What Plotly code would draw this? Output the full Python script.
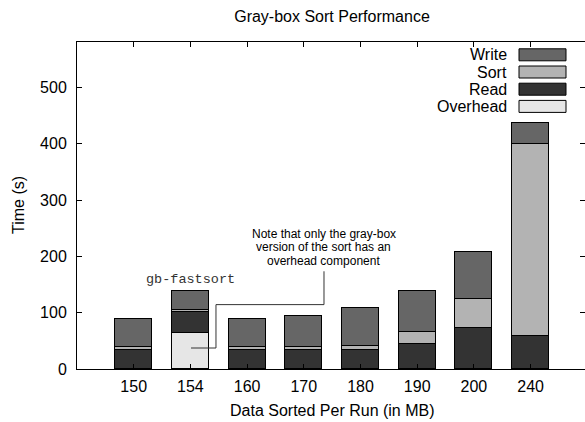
import plotly.graph_objects as go

# ---- data ----
categories = ["150", "154", "160", "170", "180", "190", "200", "240"]
overhead = [0, 64, 0, 0, 0, 0, 0, 0]
read = [34, 37, 34, 34, 34.5, 45, 73, 58]
sort_t = [5, 3, 5, 5.5, 6.5, 20, 52, 342]
write = [50, 34, 50, 54.5, 67, 73, 83, 37]

series_names = ["Overhead", "Read", "Sort", "Write"]
series_values = [overhead, read, sort_t, write]
series_colors = ["#e6e6e6", "#333333", "#b3b3b3", "#666666"]

y_ticks = [0, 100, 200, 300, 400, 500]

FONT = "Liberation Sans, Arial, Helvetica, sans-serif"
W, H = 585, 422
L, R, T, B = 77, 0, 42, 53
PW, PH = W - L - R, H - T - B


def px(x):
    return (x - L) / PW


def py(y):
    return (H - B - y) / PH


xs = list(range(len(categories)))

fig = go.Figure()
for name, vals, col in zip(series_names, series_values, series_colors):
    fig.add_trace(go.Bar(
        x=xs, y=vals, name=name, width=0.65,
        marker=dict(color=col, line=dict(color="#000000", width=1)),
        showlegend=False,
    ))

# custom legend: text on the left, swatch on the right
shapes = []
annotations = []
for i, name in enumerate(reversed(series_names)):
    col = series_colors[series_names.index(name)]
    cy = 54.8 + 17.2 * i
    shapes.append(dict(type="rect", xref="paper", yref="paper",
                       x0=px(519), x1=px(566), y0=py(cy + 6), y1=py(cy - 6),
                       fillcolor=col, line=dict(color="#000000", width=1)))
    annotations.append(dict(xref="paper", yref="paper", x=px(509), y=py(cy),
                            xanchor="right", yanchor="middle", text=name,
                            showarrow=False,
                            font=dict(family=FONT, size=16, color="#000000")))

# leader line from the note to the overhead segment
shapes.append(dict(type="path", xref="x", yref="y",
                   path="M 3.356 173.6 L 3.356 114.4 L 1.451 114.4 L 1.451 37.3 L 1.011 37.3",
                   line=dict(color="#333333", width=1)))

annotations.append(dict(xref="x", yref="y", x=1, y=159, text="gb-fastsort",
                        showarrow=False, xanchor="center", yanchor="middle",
                        font=dict(family="Liberation Mono, Courier New, monospace",
                                  size=13.5, color="#333333")))
note_lines = ["Note that only the gray-box", "version of the sort has an",
              "overhead component"]
for j, line in enumerate(note_lines):
    annotations.append(dict(xref="x", yref="y", x=3.356, y=239.3 - 23.3 * j,
                            text=line, showarrow=False, xanchor="center",
                            yanchor="middle",
                            font=dict(family=FONT, size=12, color="#000000")))

# axis titles
annotations.append(dict(xref="paper", yref="paper", x=px(332), y=py(410),
                        text="Data Sorted Per Run (in MB)", showarrow=False,
                        xanchor="center", yanchor="middle",
                        font=dict(family=FONT, size=16, color="#000000")))
annotations.append(dict(xref="paper", yref="paper", x=px(18), y=py(205),
                        text="Time (s)", showarrow=False, textangle=-90,
                        xanchor="center", yanchor="middle",
                        font=dict(family=FONT, size=16, color="#000000")))

fig.update_layout(
    width=W, height=H,
    margin=dict(l=L, r=R, t=T, b=B, pad=0, autoexpand=False),
    paper_bgcolor="white", plot_bgcolor="white",
    barmode="stack", bargap=0,
    title=dict(text="Gray-box Sort Performance", x=332 / W, y=1 - 16 / H,
               xanchor="center", yanchor="middle",
               font=dict(family=FONT, size=16, color="#000000")),
    font=dict(family=FONT, size=16, color="#000000"),
    shapes=shapes, annotations=annotations,
    showlegend=False,
)
fig.update_xaxes(
    automargin=False,
    range=[-1.0, (W - L) / 56.7 - 1.0],
    tickmode="array", tickvals=xs, ticktext=categories,
    showline=True, linecolor="#000000", linewidth=1, mirror="allticks",
    ticks="inside", ticklen=5, tickcolor="#000000", tickwidth=1,
    showgrid=False, zeroline=False, ticklabelstandoff=3,
    tickfont=dict(family=FONT, size=16, color="#000000"),
)
fig.update_yaxes(
    automargin=False,
    range=[0, 581],
    tickmode="array", tickvals=y_ticks, ticktext=[str(v) for v in y_ticks],
    showline=True, linecolor="#000000", linewidth=1, mirror="allticks",
    ticks="inside", ticklen=5, tickcolor="#000000", tickwidth=1,
    showgrid=False, zeroline=False, ticklabelstandoff=6,
    tickfont=dict(family=FONT, size=16, color="#000000"),
)

fig.write_html(
    "out.html",
    config={"displayModeBar": False},
    post_script="document.body.style.margin='0';document.body.style.padding='0';"
                "document.body.style.overflow='hidden';",
)
